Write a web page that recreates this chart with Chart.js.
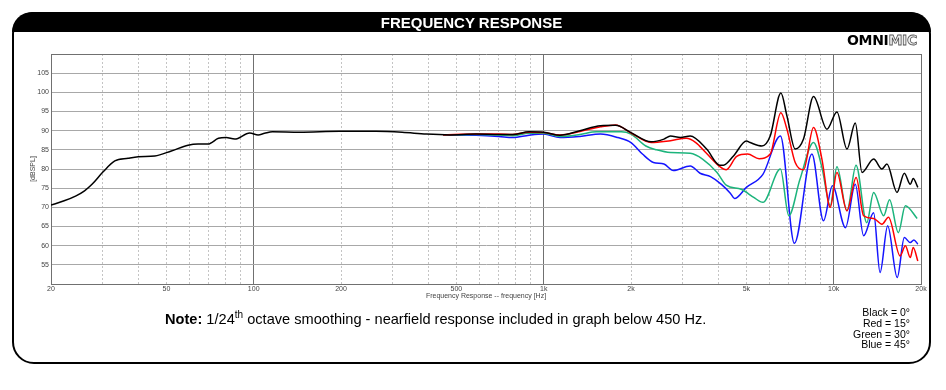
<!DOCTYPE html>
<html>
<head>
<meta charset="utf-8">
<script src="https://cdn.jsdelivr.net/npm/chart.js@4.4.1/dist/chart.umd.min.js"></script>
<style>
  body { margin: 0; background: #fff; font-family: "Liberation Sans", Arial, sans-serif; }
  #wrap { position: relative; width: 946px; height: 390px; overflow: hidden; }
  #chart { position: absolute; left: 0; top: 0; }
  #frame { position: absolute; left: 12px; top: 12px; width: 919px; height: 352px; box-sizing: border-box;
           border: 2px solid #000; border-radius: 22px; }
  #bar { position: absolute; left: 12px; top: 12px; width: 919px; height: 20px; background: #000;
         border-radius: 20px 20px 0 0; color: #fff; font-weight: bold; font-size: 15px;
         text-align: center; line-height: 21px; }
  #logo { position: absolute; right: 29px; top: 32px; font-family: "DejaVu Sans", sans-serif;
          font-weight: bold; font-size: 14px; letter-spacing: -0.3px; }
  #logo span { color: #eee; -webkit-text-stroke: 0.8px #555; }
  #note { position: absolute; left: 165px; top: 311px; font-size: 14.6px; line-height: 16px; color: #000; }
  #note sup { font-size: 10px; line-height: 0; }
  #legend { position: absolute; right: 36px; top: 307px; font-size: 10.5px; line-height: 10.8px;
            text-align: right; color: #000; }
</style>
</head>
<body>
<div id="wrap">
  <canvas id="chart" width="946" height="390"></canvas>
  <div id="frame"></div>
  <div id="bar">FREQUENCY RESPONSE</div>
  <div id="logo">OMNI<span>MIC</span></div>
  <div id="note"><b>Note:</b> 1/24<sup>th</sup> octave smoothing - nearfield response included in graph below 450 Hz.</div>
  <div id="legend">Black = 0°<br>Red = 15°<br>Green = 30°<br>Blue = 45°</div>
</div>
<script>
// values (Hz / dBSPL)
var freqBlack = [20, 22.2, 24.4, 26.1, 27.7, 30.2, 33.2, 36.9, 40, 45.6, 52, 59.4, 64.3, 69.6, 75.6, 80.3, 86,
  96.9, 103.6, 109, 116, 144, 198, 264, 325, 394, 475, 585, 700, 782, 890, 1000, 1138, 1333, 1570, 1770, 2000,
  2345, 2598, 2735, 2960, 3200, 3645, 4050, 4168, 4512, 5000, 5152, 5655, 6040, 6575, 6896, 7366, 7868, 8520,
  9478, 10260, 11110, 11870, 12520, 13730, 14670, 15260, 16530, 17520, 18370, 18800, 19500];
var dbBlack = [70.6, 71.7, 73.0, 74.3, 76.0, 79.2, 82.1, 82.8, 83.2, 83.4, 84.7, 86.2, 86.5, 86.5, 88.0, 88.2, 87.8,
  89.4, 88.9, 89.3, 89.7, 89.6, 89.85, 89.85, 89.6, 89.1, 88.9, 89.1, 89.0, 89.0, 89.7, 89.6, 88.8, 90.0, 91.3, 91.4, 89.5,
  87.1, 87.8, 88.6, 88.2, 88.6, 85.2, 81.0, 81.0, 83.4, 87.3, 86.9, 86.0, 88.6, 99.8, 93.9, 85.2, 87.8, 98.9,
  90.4, 94.9, 85.2, 92.0, 79.1, 82.6, 80.0, 81.3, 73.9, 78.9, 76.0, 77.5, 75.2];

var freqRed = [450, 585, 700, 782, 890, 1000, 1138, 1333, 1570, 1770, 2000, 2346, 2737, 3100, 3345, 3620, 4050,
  4260, 4630, 5050, 5530, 6040, 6575, 6896, 7366, 7868, 8520, 9106, 9730, 10260, 11110, 11950, 12680, 13730,
  14670, 15450, 16950, 17660, 18370, 18800, 19500];
var dbRed = [88.9, 89.1, 89.1, 89.0, 89.6, 89.5, 88.9, 89.8, 91.0, 91.5, 89.4, 86.9, 87.4, 88.0, 86.9, 84.3, 80.6,
  79.8, 83.3, 83.9, 82.7, 83.9, 94.7, 90.4, 81.7, 79.8, 90.8, 82.6, 70.0, 79.1, 69.1, 77.8, 67.8, 67.1,
  65.6, 67.4, 57.3, 60.0, 56.9, 59.5, 56.0];

var freqGreen = [450, 585, 700, 782, 890, 1000, 1138, 1333, 1520, 1850, 2000, 2250, 2450, 2735, 3200, 3530, 3960,
  4260, 4800, 5300, 5700, 6550, 7000, 7650, 8520, 9100, 9730, 10260, 11110, 11940, 13000, 13730, 14870, 15580,
  16710, 17660, 19400];
var dbGreen = [88.9, 89.0, 88.9, 88.7, 89.3, 89.3, 88.5, 89.0, 89.7, 89.7, 89.1, 86.0, 85.0, 84.3, 84.1, 82.6, 79.1,
  75.8, 74.7, 72.6, 71.3, 80.0, 67.8, 77.3, 86.9, 80.5, 70.5, 80.6, 69.1, 81.0, 66.0, 73.9, 67.8, 72.0,
  63.4, 70.4, 67.1];

var freqBlue = [450, 585, 700, 782, 890, 1000, 1138, 1333, 1570, 1800, 2000, 2190, 2390, 2598, 2800, 3200, 3460,
  3760, 4100, 4400, 4550, 5000, 5700, 6550, 7320, 8410, 9220, 9900, 10980, 11870, 12680, 13730, 14450, 15350,
  16560, 17520, 18370, 18900, 19500];
var dbBlue = [88.9, 88.8, 88.5, 88.2, 88.8, 89.1, 88.2, 88.5, 89.1, 88.2, 86.9, 83.9, 81.7, 81.3, 79.6, 80.8, 78.9,
  78.0, 76.0, 73.7, 72.3, 75.2, 78.6, 88.6, 60.6, 83.9, 66.5, 75.6, 64.7, 76.0, 62.6, 68.6, 53.0, 65.2,
  51.7, 62.1, 60.8, 61.5, 60.4];

var xLabelValues = [20, 50, 100, 200, 500, 1000, 2000, 5000, 10000, 20000];
var xLabelText = ['20', '50', '100', '200', '500', '1k', '2k', '5k', '10k', '20k'];
var xMajor = [20, 100, 1000, 10000, 20000];
var yTicks = [50, 55, 60, 65, 70, 75, 80, 85, 90, 95, 100, 105, 110];

// grid positions: 1..9 x each decade between 20 Hz and 20 kHz
var xGrid = [];
[10, 100, 1000, 10000].forEach(function (d) {
  for (var m = 1; m <= 9; m++) {
    var v = m * d;
    if (v >= 20 && v <= 20000) xGrid.push(v);
  }
});

function pts(f, d) {
  return f.map(function (v, i) { return { x: v, y: d[i] }; });
}

function line(label, color, f, d) {
  return {
    label: label,
    data: pts(f, d),
    borderColor: color,
    borderWidth: 1.5,
    pointRadius: 0,
    fill: false,
    cubicInterpolationMode: 'monotone'
  };
}

var tickFont = { family: '"Liberation Sans", Arial, sans-serif', size: 7 };

new Chart(document.getElementById('chart'), {
  type: 'line',
  data: {
    datasets: [
      line('Black', '#000000', freqBlack, dbBlack),
      line('Red', '#ff0000', freqRed, dbRed),
      line('Green', '#1cb47c', freqGreen, dbGreen),
      line('Blue', '#1414ff', freqBlue, dbBlue)
    ]
  },
  options: {
    responsive: false,
    devicePixelRatio: 1,
    animation: false,
    events: [],
    layout: { padding: { left: 27, top: 54, right: 25, bottom: 86 } },
    plugins: { legend: { display: false }, tooltip: { enabled: false } },
    scales: {
      x: {
        type: 'logarithmic',
        min: 20,
        max: 20000,
        afterBuildTicks: function (scale) {
          scale.ticks = xGrid.map(function (v) { return { value: v }; });
        },
        afterFit: function (scale) { scale.height = 20; },
        ticks: {
          autoSkip: false,
          maxRotation: 0,
          padding: 1,
          color: '#444',
          font: tickFont,
          callback: function (v) {
            var i = xLabelValues.indexOf(v);
            return i >= 0 ? xLabelText[i] : '';
          }
        },
        grid: {
          drawTicks: false,
          lineWidth: 1,
          color: function (c) {
            return c.tick && xMajor.indexOf(c.tick.value) >= 0 ? '#707070' : '#c4c4c4';
          }
        },
        border: {
          color: '#707070',
          dash: function (c) {
            return c.tick && xMajor.indexOf(c.tick.value) < 0 ? [2, 2] : [];
          }
        },
        title: {
          display: true,
          text: 'Frequency Response -- frequency [Hz]',
          color: '#444',
          font: tickFont,
          padding: { top: 0, bottom: 4 }
        }
      },
      y: {
        min: 50,
        max: 110,
        afterBuildTicks: function (scale) {
          scale.ticks = yTicks.map(function (v) { return { value: v }; });
        },
        afterFit: function (scale) { scale.width = 24; },
        ticks: {
          padding: 2,
          color: '#444',
          font: tickFont,
          callback: function (v) { return (v === 50 || v === 110) ? '' : v; }
        },
        grid: {
          drawTicks: false,
          color: function (c) {
            var v = c.tick && c.tick.value;
            return (v === 50 || v === 110) ? '#707070' : '#a8a8a8';
          }
        },
        border: { color: '#707070' },
        title: {
          display: true,
          text: '[dBSPL]',
          color: '#444',
          font: tickFont,
          padding: 2
        }
      }
    }
  }
});
</script>
</body>
</html>
